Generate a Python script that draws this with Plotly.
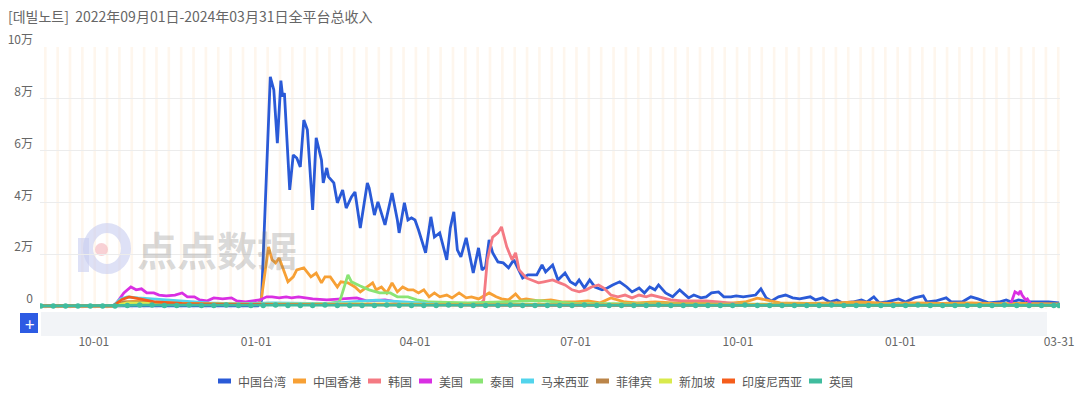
import plotly.graph_objects as go
import pandas as pd

# ---------------- data ----------------
tw_dates = ["2022-09-01","2023-01-02","2023-01-04","2023-01-07","2023-01-09","2023-01-11","2023-01-13","2023-01-15",
"2023-01-16","2023-01-17","2023-01-20","2023-01-22","2023-01-24","2023-01-26","2023-01-28","2023-01-30","2023-02-02",
"2023-02-04","2023-02-07","2023-02-08","2023-02-10","2023-02-11","2023-02-14","2023-02-16","2023-02-19","2023-02-21",
"2023-02-24","2023-02-26","2023-03-01","2023-03-05","2023-03-06","2023-03-09","2023-03-11","2023-03-15","2023-03-19",
"2023-03-22","2023-03-23","2023-03-26","2023-03-28","2023-03-30","2023-04-01","2023-04-03","2023-04-07","2023-04-10",
"2023-04-12","2023-04-15","2023-04-19","2023-04-21","2023-04-23","2023-04-25","2023-04-27","2023-04-30","2023-05-03",
"2023-05-04","2023-05-07","2023-05-09","2023-05-11","2023-05-13","2023-05-15","2023-05-18","2023-05-21","2023-05-24",
"2023-05-27","2023-05-30","2023-06-01","2023-06-04","2023-06-09","2023-06-12","2023-06-14","2023-06-18","2023-06-21",
"2023-06-25","2023-06-28","2023-07-01","2023-07-03","2023-07-06","2023-07-09","2023-07-12","2023-07-16","2023-07-19",
"2023-07-22","2023-07-26","2023-07-30","2023-08-02","2023-08-06","2023-08-09","2023-08-12","2023-08-15","2023-08-17",
"2023-08-21","2023-08-25","2023-08-29","2023-08-31","2023-09-03","2023-09-06","2023-09-10","2023-09-13","2023-09-16",
"2023-09-20","2023-09-23","2023-09-27","2023-09-30","2023-10-04","2023-10-07","2023-10-11","2023-10-14","2023-10-17",
"2023-10-20","2023-10-24","2023-10-28","2023-11-01","2023-11-05","2023-11-09","2023-11-11","2023-11-14","2023-11-18",
"2023-11-22","2023-11-26","2023-11-29","2023-12-05","2023-12-10","2023-12-13","2023-12-17","2023-12-20","2023-12-24",
"2023-12-30","2023-12-31","2024-01-04","2024-01-09","2024-01-14","2024-01-16","2024-01-21","2024-01-27","2024-01-30",
"2024-02-05","2024-02-10","2024-02-14","2024-02-20","2024-02-26","2024-03-01","2024-03-04","2024-03-08","2024-03-14",
"2024-03-20","2024-03-25","2024-03-31"]
tw_values = [0,0,2000,50500,88500,83400,62900,87000,
80800,82200,44800,58300,57100,53700,71800,68000,37100,
64900,56400,47500,53300,49800,47500,39800,44800,37800,
42100,44000,30100,47500,45600,35100,40200,31300,43600,
33200,28200,39800,33200,34000,33200,29300,20500,34400,
26600,28200,17800,30100,36300,21600,18900,26300,16600,
12700,22400,13900,15100,25500,20500,17000,16600,14700,
17800,13900,10800,12000,12000,15800,13100,15800,10000,
12700,9300,8100,10000,6900,10000,7300,6200,6900,
8100,9300,7300,5400,6900,5000,7300,6200,8100,
5000,3500,6200,5000,3100,4200,3100,3500,5000,
5400,3500,3500,3900,3500,3900,4200,6600,3100,
1900,3500,4200,3100,2700,3100,3500,2300,3100,
1500,2300,1200,1500,2300,1500,3500,1200,1500,
2300,2700,1500,3100,3900,1500,1900,3100,1500,
1500,3500,2700,1200,1500,2300,1500,2300,1500,
1500,1500,1200]

hk_dates = ["2022-09-01","2022-10-13","2022-10-18","2022-10-25","2022-11-10","2022-12-10","2023-01-02","2023-01-04",
"2023-01-08","2023-01-10","2023-01-12","2023-01-14","2023-01-16","2023-01-19","2023-01-22","2023-01-24","2023-01-28",
"2023-02-01","2023-02-04","2023-02-07","2023-02-09","2023-02-12","2023-02-16","2023-02-18","2023-02-22","2023-02-26",
"2023-03-01","2023-03-05","2023-03-08","2023-03-10","2023-03-13","2023-03-16","2023-03-19","2023-03-22","2023-03-25",
"2023-03-28","2023-03-31","2023-04-03","2023-04-06","2023-04-09","2023-04-12","2023-04-15","2023-04-19","2023-04-22",
"2023-04-26","2023-04-30","2023-05-03","2023-05-07","2023-05-13","2023-05-17","2023-05-20","2023-05-24","2023-05-28",
"2023-05-31","2023-06-03","2023-06-10","2023-06-17","2023-06-24","2023-07-01","2023-07-08","2023-07-15","2023-07-21",
"2023-07-29","2023-08-05","2023-08-15","2023-08-25","2023-09-05","2023-09-15","2023-09-25","2023-10-05","2023-10-12",
"2023-10-25","2023-11-10","2023-11-25","2023-12-09","2023-12-25","2024-01-10","2024-01-25","2024-02-10","2024-02-25",
"2024-03-10","2024-03-31"]
hk_values = [0,0,1500,1800,1200,800,600,3000,
22800,17800,16600,18500,14700,9300,11200,13900,14700,
11200,12700,8900,11200,11200,7300,9300,8900,7300,
5400,7300,8900,6200,7300,5000,8900,5400,7300,
6200,6200,5000,6200,3500,5000,3500,4200,3100,
5000,3100,3500,2700,5000,3500,2700,2300,4600,
2300,2700,1900,2300,1500,1500,1900,1200,3100,
1500,1200,1500,1200,1000,1200,1000,1500,3000,
1200,1000,1200,1500,1000,1200,1000,1200,900,
1000,800]

kr_dates = ["2022-09-01","2022-10-14","2022-10-20","2022-12-01","2023-01-10","2023-03-01","2023-05-08","2023-05-10",
"2023-05-12","2023-05-15","2023-05-18","2023-05-20","2023-05-23","2023-05-26","2023-05-28","2023-05-30","2023-06-03",
"2023-06-06","2023-06-10","2023-06-13","2023-06-18","2023-06-22","2023-06-25","2023-06-29","2023-07-03","2023-07-07",
"2023-07-10","2023-07-14","2023-07-17","2023-07-21","2023-07-25","2023-07-29","2023-08-02","2023-08-06","2023-08-10",
"2023-08-13","2023-08-17","2023-08-21","2023-08-24","2023-08-30","2023-09-05","2023-09-13","2023-09-20","2023-09-26",
"2023-10-05","2023-12-01","2024-03-31"]
kr_values = [0,0,600,500,800,600,800,2300,
17800,26600,28200,30500,22800,17800,20500,13900,10800,
10000,8900,9300,10000,8900,8100,6200,5400,6200,
7300,8100,6900,4200,3500,4200,3100,4200,3500,
4200,3500,2700,2300,1900,1900,1900,1500,1200,
400,300,300]

us_dates = ["2022-09-01","2022-10-12","2022-10-14","2022-10-18","2022-10-22","2022-10-25","2022-10-28","2022-10-31",
"2022-11-04","2022-11-07","2022-11-11","2022-11-16","2022-11-20","2022-11-23","2022-11-27","2022-11-30","2022-12-04",
"2022-12-08","2022-12-13","2022-12-18","2022-12-21","2022-12-26","2023-01-03","2023-01-07","2023-01-10","2023-01-14",
"2023-01-18","2023-01-21","2023-01-25","2023-01-29","2023-02-02","2023-02-10","2023-02-20","2023-02-27","2023-03-05",
"2023-03-15","2023-03-25","2023-04-05","2023-05-01","2023-07-01","2024-03-02","2024-03-04","2024-03-06","2024-03-08",
"2024-03-09","2024-03-10","2024-03-12","2024-03-13","2024-03-15","2024-03-31"]
us_values = [0,0,1200,5000,7300,6200,6600,5000,
5000,4200,3900,4200,5000,3500,3500,2300,1900,
3100,2700,3100,1900,1500,2300,3500,3500,3100,
3500,3100,3500,3100,2700,2300,2700,3100,1900,
2300,1200,800,500,300,300,1500,5400,4600,
5800,4200,2300,2700,600,300]

th_dates = ["2022-09-01","2022-10-13","2022-10-20","2022-11-15","2022-12-20","2023-01-10","2023-02-10","2023-02-17",
"2023-02-18","2023-02-22","2023-02-24","2023-03-01","2023-03-06","2023-03-12","2023-03-18","2023-03-22","2023-03-28",
"2023-04-02","2023-04-09","2023-05-01","2023-06-10","2023-07-01","2023-09-01","2024-03-31"]
th_values = [0,0,800,600,500,1000,900,1500,
3100,12000,9300,7700,6200,5000,5000,3500,3500,
2300,1500,1200,2000,1000,700,500]

my_dates = ["2022-09-01","2022-10-12","2022-10-16","2022-10-20","2022-10-26","2022-11-03","2022-11-12","2022-11-22",
"2022-12-05","2022-12-20","2023-01-10","2023-02-10","2023-03-10","2023-04-15","2023-06-01","2023-09-01","2024-03-31"]
my_values = [0,0,2700,3500,3100,2700,2300,1900,
1200,800,1200,900,2200,700,500,300,200]

ph_dates = ["2022-09-01","2022-10-12","2022-10-18","2022-11-01","2022-12-01","2023-02-01","2023-06-01","2024-03-31"]
ph_values = [0,0,1500,1200,800,600,400,300]

sg_dates = ["2022-09-01","2022-10-12","2022-10-20","2022-11-15","2022-12-20","2023-03-01","2023-06-01","2024-03-31"]
sg_values = [0,0,1200,900,700,800,500,300]

id_dates = ["2022-09-01","2022-10-12","2022-10-17","2022-10-21","2022-10-27","2022-11-05","2022-11-20","2022-12-15",
"2023-01-15","2023-06-01","2024-03-31"]
id_values = [0,0,2500,3500,2700,1500,1000,600,500,300,300]

uk_week_start = "2022-09-01"   # weekly points (markers visible every week)
uk_values = [
0,0,0,0,0,0,0,200,300,300,
200,200,300,200,200,300,200,200,200,300,
200,200,200,300,200,200,200,200,300,200,
200,200,200,300,200,200,200,200,300,200,
200,200,200,200,300,200,200,200,200,200,
300,200,200,200,200,200,200,300,200,200,
200,200,200,200,300,200,200,200,200,200,
200,300,200,200,200,200,200,200,300,200,
200,200,200,200]

series_names = ["中国台湾","中国香港","韩国","美国","泰国","马来西亚","菲律宾","新加坡","印度尼西亚","英国"]
series_colors = ["#2a5ad7","#f7a035","#f47a83","#d92fe3","#8ae474","#52d4ec","#bb8549","#d9ea4c","#f55d1c","#40bc9e"]

y_tickvals = [0, 20000, 40000, 60000, 80000, 100000]
y_ticktext = ["0", "2万", "4万", "6万", "8万", "10万"]
x_tickvals = ["2022-10-01","2023-01-01","2023-04-01","2023-07-01","2023-10-01","2024-01-01","2024-03-31"]
x_ticktext = ["10-01","01-01","04-01","07-01","10-01","01-01","03-31"]

title_text = "[데빌노트]  2022年09月01日-2024年03月31日全平台总收入"

# ---------------- figure ----------------
FONT = "Noto Sans CJK SC, Noto Sans, sans-serif"
L, W, T, H = 40, 1020, 47, 262   # plot area in px

def px_x(px):
    return (px - L) / W

def px_y(py):
    return (T + H - py) / H

uk_dates = list(pd.date_range(uk_week_start, "2024-03-31", freq="7D").strftime("%Y-%m-%d"))
uk_dates = uk_dates + ["2024-03-31"]
uk_values = uk_values[:len(uk_dates)]

all_data = [
    (tw_dates, tw_values), (hk_dates, hk_values), (kr_dates, kr_values), (us_dates, us_values),
    (th_dates, th_values), (my_dates, my_values), (ph_dates, ph_values), (sg_dates, sg_values),
    (id_dates, id_values), (uk_dates, uk_values),
]

fig = go.Figure()
for (dx, dy), name, color in zip(all_data, series_names, series_colors):
    is_uk = name == "英国"
    fig.add_trace(go.Scatter(
        x=dx, y=dy, name=name,
        mode="lines+markers" if is_uk else "lines",
        line=dict(color=color, width=2.8),
        marker=dict(size=5.5, color=color) if is_uk else None,
        showlegend=False,
    ))

shapes = []
annotations = []
# weekend highlight stripes
for sat in pd.date_range("2022-09-03", "2024-03-31", freq="7D"):
    shapes.append(dict(type="rect", xref="x", yref="paper",
                       x0=sat - pd.Timedelta(hours=6), x1=sat + pd.Timedelta(hours=30),
                       y0=0, y1=1, fillcolor="rgba(250,212,165,0.2)", line=dict(width=0), layer="below"))
# watermark logo
shapes.append(dict(type="rect", xref="paper", yref="paper", x0=px_x(78), x1=px_x(89), y0=px_y(272), y1=px_y(238),
                   fillcolor="rgba(200,205,240,0.6)", line=dict(width=0), layer="below"))
shapes.append(dict(type="circle", xref="paper", yref="paper", x0=px_x(88), x1=px_x(126), y0=px_y(269), y1=px_y(228),
                   fillcolor="rgba(0,0,0,0)", line=dict(width=10, color="rgba(200,205,240,0.6)"), layer="below"))
shapes.append(dict(type="circle", xref="paper", yref="paper", x0=px_x(95), x1=px_x(108), y0=px_y(256), y1=px_y(243),
                   fillcolor="rgba(245,185,190,0.65)", line=dict(width=0), layer="below"))
# data-zoom slider look-alike
shapes.append(dict(type="rect", xref="paper", yref="paper", x0=px_x(41), x1=px_x(1047), y0=px_y(336), y1=px_y(312),
                   fillcolor="#f2f4f7", line=dict(width=0), layer="below"))
shapes.append(dict(type="rect", xref="paper", yref="paper", x0=px_x(20), x1=px_x(38), y0=px_y(333), y1=px_y(313),
                   fillcolor="#2d5be3", line=dict(width=0)))

annotations.append(dict(text="点点数据", xref="paper", yref="paper", x=px_x(135), y=px_y(249), showarrow=False,
                        font=dict(family=FONT, size=40, color="rgba(110,110,110,0.26)", weight="bold"),
                        xanchor="left", yanchor="middle"))
annotations.append(dict(text="+", xref="paper", yref="paper", x=px_x(29), y=px_y(323), showarrow=False,
                        font=dict(family=FONT, size=17, color="white"), xanchor="center", yanchor="middle"))

# legend (short rounded-bar icons like the reference)
leg_x = 218
leg_y = 381
for name, color in zip(series_names, series_colors):
    shapes.append(dict(type="rect", xref="paper", yref="paper", x0=px_x(leg_x), x1=px_x(leg_x + 13),
                       y0=px_y(leg_y + 2.5), y1=px_y(leg_y - 2.5), fillcolor=color, line=dict(width=0)))
    annotations.append(dict(text=name, xref="paper", yref="paper", x=px_x(leg_x + 18), y=px_y(leg_y),
                            showarrow=False, xanchor="left", yanchor="middle",
                            font=dict(family=FONT, size=12, color="#555")))
    leg_x += 13 + 5 + 12 * len(name) + 9

fig.update_layout(
    width=1080, height=394,
    margin=dict(l=L, r=1080 - L - W, t=T, b=394 - T - H, autoexpand=False),
    paper_bgcolor="white", plot_bgcolor="white",
    font=dict(family=FONT, size=12, color="#666"),
    title=dict(text=title_text, xref="container", yref="container", x=8 / 1080, xanchor="left",
               y=1 - 17 / 394, yanchor="middle", font=dict(family=FONT, size=14, color="#666")),
    showlegend=False,
    shapes=shapes, annotations=annotations,
    hovermode=False,
)
fig.update_xaxes(type="date", range=["2022-08-31 12:00", "2024-03-31 12:00"], automargin=False,
                 tickvals=x_tickvals, ticktext=x_ticktext, showgrid=False, zeroline=False, showline=False,
                 ticks="", tickfont=dict(size=12, color="#666"), ticklabelstandoff=24)
fig.update_yaxes(range=[-1200, 100000], tickvals=y_tickvals, ticktext=y_ticktext, showgrid=True, automargin=False,
                 gridcolor="#ececec", gridwidth=1, zeroline=False, showline=False, ticks="",
                 tickfont=dict(size=12, color="#666"), ticklabelshift=-7, ticklabelstandoff=6)

fig.write_html("out.html", config={"displayModeBar": False},
               post_script="document.body.style.margin='0px';document.body.style.overflow='hidden';")
